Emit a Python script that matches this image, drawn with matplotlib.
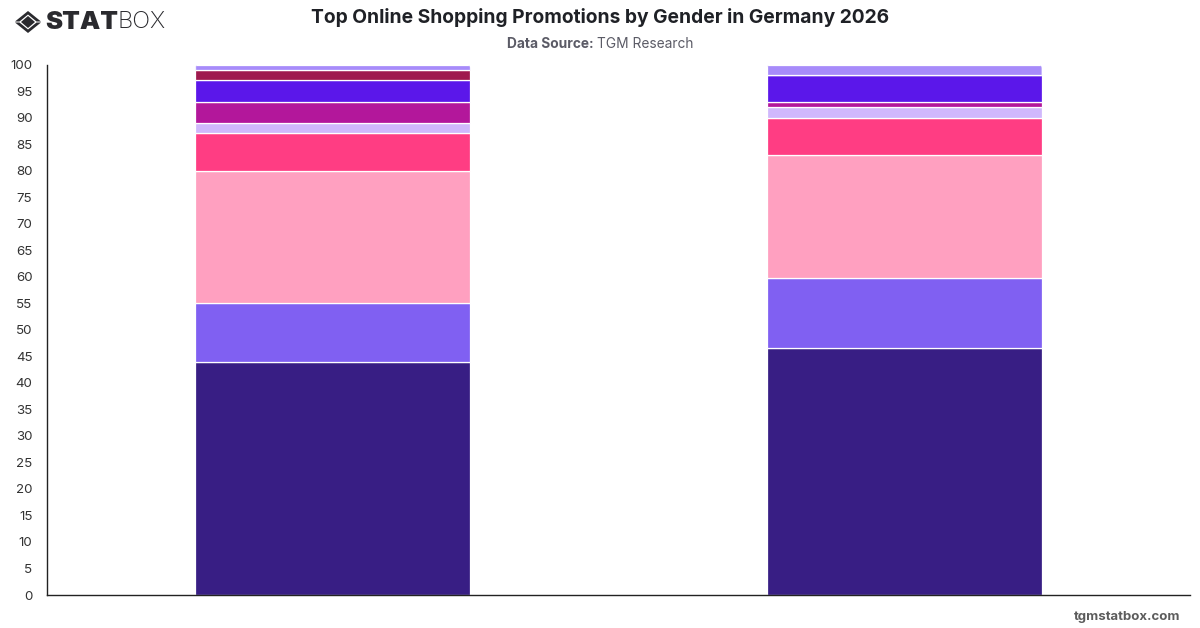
import matplotlib
matplotlib.use('Agg')
import matplotlib.pyplot as plt
from matplotlib.patches import FancyBboxPatch, Polygon
from matplotlib.transforms import IdentityTransform

plt.rcParams['font.family'] = ['Inter', 'DejaVu Sans']

# stacked shares per gender, bottom segment first
genders = ['Female', 'Male']
female = [44, 11, 25, 7, 2, 4, 4, 2, 1]
male = [46.6, 13.1, 23.3, 7, 2, 1, 5, 0, 2]
colors = ['#381E84', '#8060F2', '#FFA0C0', '#FF3D83', '#D0B8FC',
          '#B3179B', '#5B17EA', '#9F1A4E', '#A78BFA']
yticks = list(range(0, 101, 5))

W, H = 1200, 628
fig = plt.figure(figsize=(W / 100, H / 100), dpi=100, facecolor='white')
ax = fig.add_axes([47 / W, 1 - 595 / H, 1143 / W, 530.5 / H])

bottoms = [0, 0]
tops = []
for i, c in enumerate(colors):
    vals = [female[i], male[i]]
    bars = ax.bar([0, 1], vals, width=0.481, bottom=bottoms, color=c,
                  edgecolor='white', linewidth=0.9)
    bottoms = [bottoms[0] + vals[0], bottoms[1] + vals[1]]
    if i == len(colors) - 1:
        tops = list(bars)

ax.set_xlim(-0.5, 1.5)
ax.set_ylim(0, 100)
ax.set_xticks([])
ax.set_yticks(yticks)
ax.tick_params(axis='y', length=0, pad=10.5, labelsize=9.6, labelcolor='#333333')
for lab in ax.get_yticklabels():
    lab.set_horizontalalignment('right')
for s in ['top', 'right']:
    ax.spines[s].set_visible(False)
for s in ['left', 'bottom']:
    ax.spines[s].set_color('#222222')
    ax.spines[s].set_linewidth(1)

# round the upper corners of the last segment
fig.canvas.draw()
for b in tops:
    (x0, y0), (x1, y1) = ax.transData.transform(
        [(b.get_x(), b.get_y()), (b.get_x() + b.get_width(), b.get_y() + b.get_height())])
    clip = FancyBboxPatch((x0, y0 - 10), x1 - x0, y1 - y0 + 10,
                          boxstyle='round,pad=0,rounding_size=4',
                          transform=IdentityTransform())
    b.set_clip_path(clip)

fig.text(600 / W, 1 - 17.5 / H, 'Top Online Shopping Promotions by Gender in Germany 2026',
         ha='center', va='center', fontsize=13.85, fontweight='bold', color='#1F2126')
t1 = fig.text(0, 1 - 43.5 / H, 'Data Source:', ha='left', va='center', fontsize=9.9,
              fontweight='bold', color='#5B5B66')
t2 = fig.text(0, 1 - 43.5 / H, 'TGM Research', ha='left', va='center', fontsize=9.9,
              color='#5B5B66')
r = fig.canvas.get_renderer()
w1 = t1.get_window_extent(r).width
w2 = t2.get_window_extent(r).width
start = 600 - (w1 + w2 + 3) / 2
t1.set_x(start / W)
t2.set_x((start + w1 + 3) / W)

fig.text(1180 / W, 1 - 617 / H, 'tgmstatbox.com', ha='right', va='center',
         fontsize=9.5, fontweight='bold', color='#5C5C5C')

# logo mark
def px(points):
    return [(x / W, 1 - y / H) for x, y in points]

dark = '#2A2A2E'
mark = [
    [(15, 21.5), (28, 11), (41, 21.5), (36.5, 21.5), (28, 14.5), (19.5, 21.5)],
    [(15, 22.5), (28, 33), (41, 22.5), (36.5, 22.5), (28, 29.5), (19.5, 22.5)],
    [(21, 22), (28, 16), (35, 22), (28, 28)],
]
for pts in mark:
    fig.add_artist(Polygon(px(pts), closed=True, facecolor=dark, edgecolor='none',
                           transform=fig.transFigure))
fig.text(45.5 / W, 1 - 22.5 / H, 'STAT', ha='left', va='center', fontsize=18.5,
         fontweight='black', color=dark)
fig.text(118 / W, 1 - 22.5 / H, 'BOX', ha='left', va='center', fontsize=17,
         fontweight='light', color=dark)

fig.savefig('out.png', dpi=100)
